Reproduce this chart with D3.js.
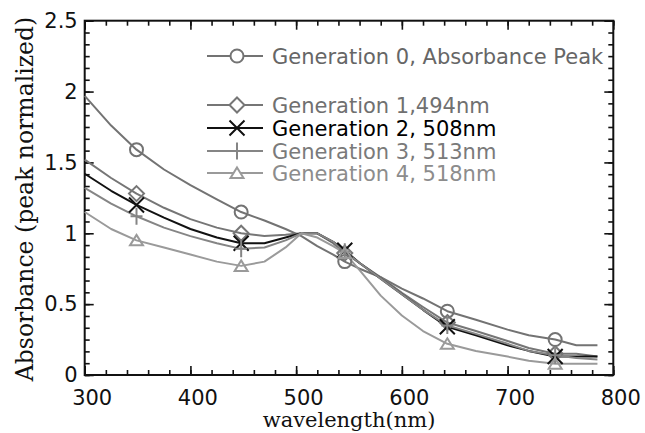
<!DOCTYPE html>
<html><head><meta charset="utf-8">
<script src="https://cdn.jsdelivr.net/npm/d3@7"></script>
<style>body{margin:0;background:#fff}</style>
</head><body>
<svg id="chart" width="645" height="433"></svg>
<script>
const wavelengths = [300,325,349,375,400,425,448,470,490,505,520,535,546,560,580,600,620,643,670,700,720,745,765,785];
const gen0 = [1.97,1.76,1.59,1.45,1.34,1.24,1.15,1.09,1.03,0.98,0.91,0.85,0.80,0.75,0.69,0.61,0.54,0.45,0.39,0.32,0.28,0.25,0.21,0.21];
const gen1 = [1.52,1.39,1.28,1.18,1.10,1.04,1.00,0.98,0.99,1.00,1.00,0.93,0.86,0.79,0.69,0.58,0.48,0.37,0.31,0.24,0.19,0.15,0.15,0.13];
const gen2 = [1.42,1.30,1.20,1.11,1.03,0.97,0.93,0.93,0.97,1.00,1.00,0.94,0.88,0.79,0.68,0.57,0.46,0.34,0.28,0.21,0.17,0.13,0.13,0.13];
const gen3 = [1.32,1.21,1.12,1.04,0.98,0.93,0.89,0.90,0.95,1.00,1.00,0.94,0.87,0.79,0.68,0.57,0.46,0.35,0.29,0.22,0.17,0.14,0.12,0.11];
const gen4 = [1.15,1.03,0.95,0.90,0.85,0.80,0.77,0.80,0.90,1.00,0.97,0.91,0.86,0.74,0.56,0.42,0.31,0.22,0.17,0.13,0.10,0.08,0.08,0.08];
const markerWavelengths = [349,448,546,643,745];
const seriesNames = ["Generation 0, Absorbance Peak","Generation 1,494nm","Generation 2, 508nm","Generation 3, 513nm","Generation 4, 518nm"];
const xTicks = [300,400,500,600,700,800];
const yTicks = [0,0.5,1,1.5,2,2.5];

const seriesValues = [gen0,gen1,gen2,gen3,gen4];
const colors = ["#737373","#767676","#111111","#858585","#9a9a9a"];
const textColors = ["#666666","#707070","#000000","#7a7a7a","#8c8c8c"];
const legendY = [56,105,128,151,173];
const symbolPaths = [
  "M6.5,0A6.5,6.5 0 1,1 -6.5,0A6.5,6.5 0 1,1 6.5,0Z",
  "M0,-7.5L7.5,0L0,7.5L-7.5,0Z",
  "M-7.5,-7.5L7.5,7.5M-7.5,7.5L7.5,-7.5",
  "M0,-8.5L0,8.5M-6,0L6,0",
  "M0,-5.5L6.5,5L-6.5,5Z"
];

const svg = d3.select("#chart");
const L = 84.7, R = 613.3, T = 20.7, B = 375;
const x = d3.scaleLinear().domain([300,800]).range([L,R]);
const y = d3.scaleLinear().domain([0,2.5]).range([B,T]);

const xMinor = d3.range(300,801,20);
const yMinor = d3.range(0,31).map(i=>i*2.5/30);

function styleAxis(g){
  g.select(".domain").remove();
  g.selectAll("line").attr("stroke","#111").attr("stroke-width",1.6);
}
// minor ticks
svg.append("g").attr("transform",`translate(0,${B})`).call(d3.axisBottom(x).tickValues(xMinor).tickSize(-5).tickFormat("")).call(styleAxis);
svg.append("g").attr("transform",`translate(0,${T})`).call(d3.axisTop(x).tickValues(xMinor).tickSize(-5).tickFormat("")).call(styleAxis);
svg.append("g").attr("transform",`translate(${L},0)`).call(d3.axisLeft(y).tickValues(yMinor).tickSize(-5).tickFormat("")).call(styleAxis);
svg.append("g").attr("transform",`translate(${R},0)`).call(d3.axisRight(y).tickValues(yMinor).tickSize(-5).tickFormat("")).call(styleAxis);
// major ticks
const fmt = d => String(d);
const bx = svg.append("g").attr("transform",`translate(0,${B})`).call(d3.axisBottom(x).tickValues(xTicks).tickSize(-9).tickPadding(15).tickFormat(fmt)).call(styleAxis);
bx.selectAll("text").attr("dx",7).attr("font-family","DejaVu Sans").attr("font-size",21).attr("fill","#111");
svg.append("g").attr("transform",`translate(0,${T})`).call(d3.axisTop(x).tickValues(xTicks).tickSize(-9).tickFormat("")).call(styleAxis);
const ly = svg.append("g").attr("transform",`translate(${L},0)`).call(d3.axisLeft(y).tickValues(yTicks).tickSize(-9).tickPadding(7).tickFormat(fmt)).call(styleAxis);
ly.selectAll("text").attr("font-family","DejaVu Sans").attr("font-size",21).attr("fill","#111");
svg.append("g").attr("transform",`translate(${R},0)`).call(d3.axisRight(y).tickValues(yTicks).tickSize(-9).tickFormat("")).call(styleAxis);

// frame
svg.append("rect").attr("x",L).attr("y",T).attr("width",R-L).attr("height",B-T)
  .attr("fill","none").attr("stroke","#111").attr("stroke-width",2);

// lines
const line = d3.line().x((d,i)=>x(wavelengths[i])).y(d=>y(d));
seriesValues.forEach((vals,k)=>{
  svg.append("path").attr("d",line(vals)).attr("fill","none")
    .attr("stroke",colors[k]).attr("stroke-width",2).attr("stroke-linejoin","round");
});
// markers
seriesValues.forEach((vals,k)=>{
  markerWavelengths.forEach(w=>{
    const i = wavelengths.indexOf(w);
    svg.append("path").attr("d",symbolPaths[k])
      .attr("transform",`translate(${x(w)},${y(vals[i])})`)
      .attr("fill","none")
      .attr("stroke",colors[k]).attr("stroke-width",2);
  });
});

// legend
seriesNames.forEach((name,k)=>{
  const ly0 = legendY[k];
  svg.append("line").attr("x1",207).attr("x2",263).attr("y1",ly0).attr("y2",ly0)
    .attr("stroke",colors[k]).attr("stroke-width",2);
  svg.append("path").attr("d",symbolPaths[k]).attr("transform",`translate(237,${ly0})`)
    .attr("fill","#fff").attr("stroke",colors[k]).attr("stroke-width",2);
  svg.append("text").attr("x",272).attr("y",ly0).attr("dy","0.36em")
    .attr("font-family","DejaVu Sans").attr("font-size",21).attr("fill",textColors[k]).text(name);
});

// axis titles
svg.append("text").attr("x",(L+R)/2).attr("y",427).attr("text-anchor","middle")
  .attr("font-family","DejaVu Serif").attr("font-size",21).attr("fill","#111").text("wavelength(nm)");
svg.append("text").attr("transform",`translate(33,199) rotate(-90)`).attr("text-anchor","middle")
  .attr("font-family","DejaVu Serif").attr("font-size",23.5).attr("fill","#111").text("Absorbance (peak normalized)");
</script>
</body></html>
